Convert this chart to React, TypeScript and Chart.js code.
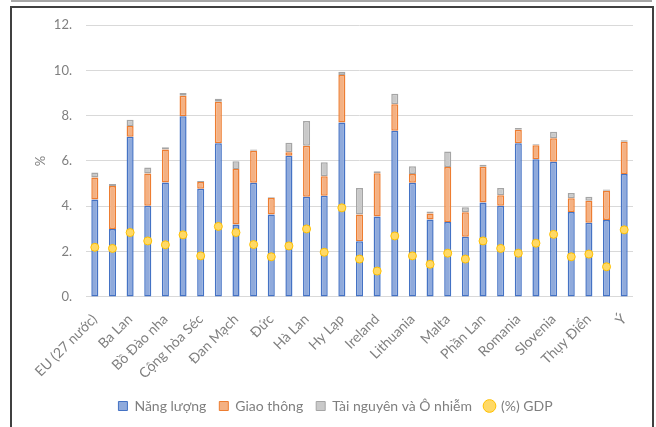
import React, { useEffect, useRef } from "react";
import { Chart, registerables } from "chart.js";

Chart.register(...registerables);

const categories = [
  "EU (27 nước)", "Áo", "Ba Lan", "Bỉ", "Bồ Đào nha", "Bulgaria", "Cộng hòa Séc", "Croatia",
  "Đan Mạch", "Síp", "Đức", "Estonia", "Hà Lan", "Hungary", "Hy Lạp", "Iceland",
  "Ireland", "Latvia", "Lithuania", "Luxembourg", "Malta", "Na Uy", "Phần Lan", "Pháp",
  "Romania", "Slovakia", "Slovenia", "Tây Ban Nha", "Thụy Điển", "Thụy Sĩ", "Ý",
];

const energy = [4.30, 3.00, 7.07, 4.02, 5.05, 7.97, 4.77, 6.78, 3.20, 5.04, 3.64, 6.23, 4.42, 4.46, 7.70, 2.46, 3.55, 7.33, 5.04, 3.42, 3.31, 2.65, 4.17, 4.02, 6.78, 6.07, 5.96, 3.75, 3.27, 3.39, 5.42];
const transport = [0.97, 1.90, 0.47, 1.43, 1.46, 0.91, 0.30, 1.83, 2.44, 1.41, 0.73, 0.15, 2.25, 0.86, 2.09, 1.18, 1.91, 1.17, 0.38, 0.26, 2.42, 1.09, 1.57, 0.47, 0.60, 0.62, 1.04, 0.60, 0.97, 1.29, 1.43];
const resource = [0.22, 0.08, 0.28, 0.26, 0.09, 0.12, 0.05, 0.14, 0.35, 0.06, 0.03, 0.42, 1.09, 0.62, 0.15, 1.17, 0.09, 0.47, 0.35, 0.09, 0.69, 0.22, 0.09, 0.32, 0.07, 0.05, 0.29, 0.24, 0.18, 0.06, 0.06];
const gdp = [2.19, 2.14, 2.84, 2.47, 2.30, 2.74, 1.81, 3.11, 2.84, 2.31, 1.77, 2.25, 3.00, 1.97, 3.93, 1.67, 1.14, 2.69, 1.81, 1.44, 1.93, 1.67, 2.47, 2.14, 1.93, 2.37, 2.76, 1.77, 1.89, 1.33, 2.96];

const seriesNames = ["Năng lượng", "Giao thông", "Tài nguyên và Ô nhiễm", "(%) GDP"];
const yTicks = [0, 2, 4, 6, 8, 10, 12];

const FONT = "Lato, 'Noto Sans', 'Open Sans', sans-serif";
const TEXT = "#7F7F7F";

const legendShift = {
  id: "legendShift",
  afterLayout(chart: any) {
    if (chart.legend) {
      chart.legend.left += 13;
      chart.legend.right += 13;
    }
  },
};

export default function App() {
  const ref = useRef<HTMLCanvasElement>(null);
  useEffect(() => {
    if (!ref.current) return;
    const chart = new Chart(ref.current, {
      type: "bar",
      plugins: [legendShift],
      data: {
        labels: categories,
        datasets: [
          {
            type: "bar",
            label: seriesNames[0],
            data: energy,
            backgroundColor: "#8FAADC",
            borderColor: "#4472C4",
            borderWidth: 1.5,
            borderSkipped: false,
            stack: "s",
            order: 1,
          },
          {
            type: "bar",
            label: seriesNames[1],
            data: transport,
            backgroundColor: "#F4B183",
            borderColor: "#ED7D31",
            borderWidth: 1.5,
            borderSkipped: false,
            stack: "s",
            order: 1,
          },
          {
            type: "bar",
            label: seriesNames[2],
            data: resource,
            backgroundColor: "#C9C9C9",
            borderColor: "#A5A5A5",
            borderWidth: 1.5,
            borderSkipped: false,
            stack: "s",
            order: 1,
          },
          {
            type: "line",
            label: seriesNames[3],
            data: gdp,
            showLine: false,
            pointRadius: 4,
            pointStyle: "circle",
            backgroundColor: "#FFD966",
            borderColor: "#FFC000",
            borderWidth: 1,
            stack: "g",
            order: 0,
          } as any,
        ],
      },
      options: {
        animation: false,
        responsive: false,
        maintainAspectRatio: false,
        layout: { padding: { left: 0, right: 18, top: 1, bottom: 4 } },
        datasets: {
          bar: { barPercentage: 0.4, categoryPercentage: 1 },
        },
        plugins: {
          tooltip: { enabled: false },
          legend: {
            position: "bottom",
            labels: {
              color: TEXT,
              font: { family: FONT, size: 14 },
              usePointStyle: true,
              boxWidth: 9,
              boxHeight: 9,
              padding: 13,
              generateLabels: (c: any) => {
                const items = (Chart.defaults.plugins.legend.labels as any).generateLabels(c);
                items.sort((a: any, b: any) => a.datasetIndex - b.datasetIndex);
                return items.map((it: any) => ({
                  ...it,
                  pointStyle: it.datasetIndex === 3 ? "circle" : "rect",
                  lineWidth: 1,
                }));
              },
            },
          },
        },
        scales: {
          x: {
            stacked: true,
            grid: { display: false },
            border: { display: false },
            afterFit: (s: any) => {
              s.height -= 2;
            },
            ticks: {
              autoSkip: false,
              maxRotation: 45,
              minRotation: 45,
              color: TEXT,
              font: { family: FONT, size: 14 },
              padding: 6,
              callback: (_v: any, i: number) => (i % 2 === 0 ? categories[i] : ""),
            },
          },
          y: {
            stacked: true,
            min: 0,
            max: 12,
            afterBuildTicks: (s: any) => {
              s.ticks = yTicks.map((v) => ({ value: v }));
            },
            afterFit: (s: any) => {
              s.width = 74;
              s.paddingTop = 17;
              s.paddingBottom = 8;
            },
            grid: { color: "#D9D9D9", lineWidth: 1, drawTicks: false },
            border: { display: false },
            title: {
              display: true,
              text: "%",
              color: TEXT,
              font: { family: FONT, size: 13 },
              padding: { top: 21, bottom: 0 },
            },
            ticks: {
              color: TEXT,
              font: { family: FONT, size: 13 },
              padding: 14,
              callback: (v: any) => v + ".",
            },
          },
        },
      },
    });
    return () => chart.destroy();
  }, []);

  return (
    <div style={{ position: "absolute", left: 0, top: 0, width: 656, height: 427, background: "#fff", overflow: "hidden" }}>
      <div style={{ position: "absolute", left: 11, top: 0, width: 641, height: 2, background: "#A6A6A6" }} />
      <div style={{ position: "absolute", left: 10, top: 6, width: 640, height: 440, border: "2px solid #404040" }} />
      <canvas ref={ref} width={639} height={419} style={{ position: "absolute", left: 12, top: 8 }} />
    </div>
  );
}
